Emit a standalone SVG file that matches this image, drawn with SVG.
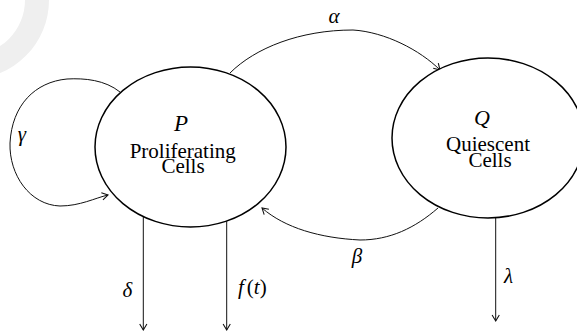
<svg xmlns="http://www.w3.org/2000/svg" width="577" height="331" viewBox="0 0 577 331">
<defs>
<style>
.node{fill:#fff;stroke:#000;stroke-width:1.5}
.conn{fill:none;stroke:#111;stroke-width:1}
.lbl{font-family:'Liberation Serif','Times New Roman',serif;font-size:21px;fill:#000;text-anchor:middle}
.math{font-family:'Liberation Serif','Times New Roman',serif;font-style:italic;font-size:21px;fill:#000;text-anchor:middle}
</style>
<marker id="arr" markerUnits="userSpaceOnUse" markerWidth="12" markerHeight="12" refX="0" refY="0" viewBox="-7 -5 8 10" orient="auto" overflow="visible">
<path d="M-5,-3 L0,0 L-5,3" fill="none" stroke="#111" stroke-width="0.9"/>
</marker>
</defs>
<rect width="577" height="331" fill="#fff"/>
<path d="M-30,-79 A79,79 0 0 1 49,0 A79,79 0 0 1 -30,79 L-30,55 A55,55 0 0 0 25,0 A55,55 0 0 0 -30,-55 Z" fill="#efefef"/>
<g id="connectors">
<path class="conn" d="M230,73 C255,48 300,30 353,30 C385,32 420,50 440,70" marker-end="url(#arr)"/>
<path class="conn" d="M438,208 C415,228 390,240 360,240 C320,238 285,228 262,208" marker-end="url(#arr)"/>
<path class="conn" d="M120,92 C105,80 85,78 67,79 C35,82 12,105 10,143 C9,175 30,205 60,206 C80,206 95,198 108,195" marker-end="url(#arr)"/>
<path class="conn" d="M143.3,217 V330" marker-end="url(#arr)"/>
<path class="conn" d="M226.7,221 V330" marker-end="url(#arr)"/>
<path class="conn" d="M495.7,218 V321" marker-end="url(#arr)"/>
<text class="math" font-family="Liberation Serif, serif" x="334" y="23">α</text>
<text class="math" font-family="Liberation Serif, serif" x="357" y="263">β</text>
<text class="math" font-family="Liberation Serif, serif" x="22" y="141">γ</text>
<text class="math" font-family="Liberation Serif, serif" x="127.5" y="297">δ</text>
<text x="238" y="294" font-family="Liberation Serif, serif" font-size="21"><tspan font-style="italic">f</tspan><tspan dx="3">(</tspan><tspan font-style="italic">t</tspan>)</text>
<text class="math" font-family="Liberation Serif, serif" x="508.5" y="283">λ</text>
</g>
<g id="node-P">
<ellipse class="node" cx="190.5" cy="147" rx="95.5" ry="80"/>
<text class="math" font-family="Liberation Serif, serif" x="181" y="131" style="font-size:23px">P</text>
<text class="lbl" font-family="Liberation Serif, serif" x="182.7" y="158">Proliferating</text>
<text class="lbl" font-family="Liberation Serif, serif" x="183" y="173">Cells</text>
</g>
<g id="node-Q">
<ellipse class="node" cx="488" cy="138" rx="96" ry="80"/>
<text class="math" font-family="Liberation Serif, serif" x="482" y="125" style="font-size:22px">Q</text>
<text class="lbl" font-family="Liberation Serif, serif" x="488" y="151">Quiescent</text>
<text class="lbl" font-family="Liberation Serif, serif" x="490" y="167">Cells</text>
</g>
</svg>
